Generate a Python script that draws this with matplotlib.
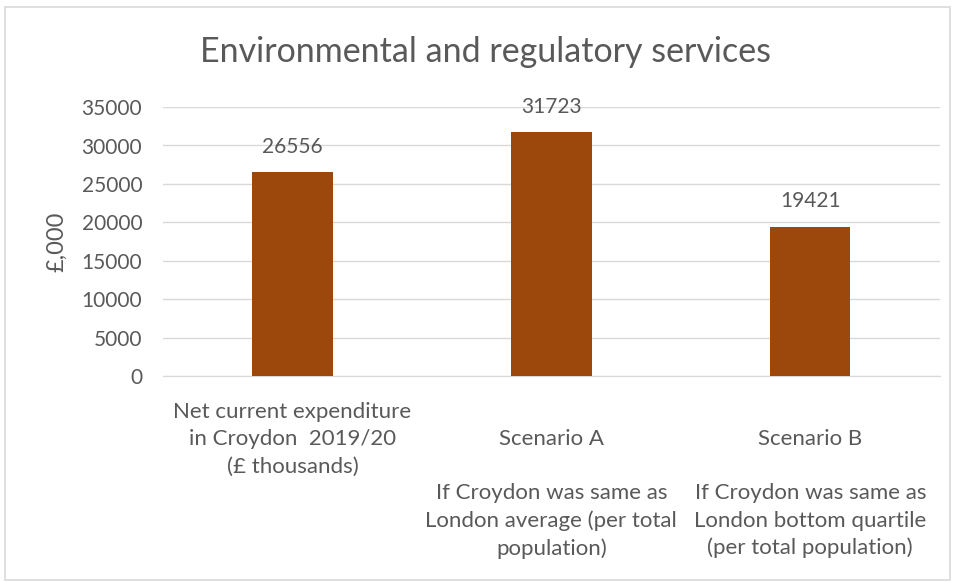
import matplotlib.pyplot as plt
from matplotlib.patches import Rectangle

categories = [
    "Net current expenditure\nin Croydon  2019/20\n(£ thousands)",
    "\nScenario A\n\nIf Croydon was same as\nLondon average (per total\npopulation)",
    "\nScenario B\n\nIf Croydon was same as\nLondon bottom quartile\n(per total population)",
]
values = [26556, 31723, 19421]
yticks = [0, 5000, 10000, 15000, 20000, 25000, 30000, 35000]

plt.rcParams['font.family'] = ['Lato', 'DejaVu Sans']
grey = '#595959'

fig = plt.figure(figsize=(9.56, 5.82), dpi=100)
fig.patches.append(Rectangle((5 / 956, 2 / 582), 945 / 956, 573 / 582, transform=fig.transFigure,
                             fill=False, edgecolor='#D9D9D9', linewidth=1.2))
ax = fig.add_axes([0.1705, 0.354, 0.8125, 0.462])

x = range(len(values))
bars = ax.bar(x, values, width=0.31, color='#9C470B', zorder=3)
for b, v in zip(bars, values):
    ax.annotate(str(v), (b.get_x() + b.get_width() / 2, v), xytext=(0, 11),
                textcoords='offset points', ha='center', va='bottom',
                fontsize=15, color=grey)

ax.set_xlim(-0.5, 2.5)
ax.set_ylim(0, 35000)
ax.set_yticks(yticks)
ax.set_yticklabels([str(t) for t in yticks], fontsize=15, color=grey)
ax.set_xticks(list(x))
ax.set_xticklabels(categories, fontsize=16, color=grey, linespacing=1.44, va='top')
ax.tick_params(length=0)
ax.tick_params(axis='x', pad=19)
ax.tick_params(axis='y', pad=15)
ax.grid(axis='y', color='#D9D9D9', linewidth=1, zorder=0)
for s in ['top', 'right', 'left']:
    ax.spines[s].set_visible(False)
ax.spines['bottom'].set_color('#D9D9D9')

ax.set_ylabel('£,000', fontsize=17, color=grey, labelpad=10)
fig.text(485 / 956, 1 - 52 / 582, 'Environmental and regulatory services',
         fontsize=24.5, color=grey, ha='center', va='center')

fig.savefig('out.png', dpi=100)
